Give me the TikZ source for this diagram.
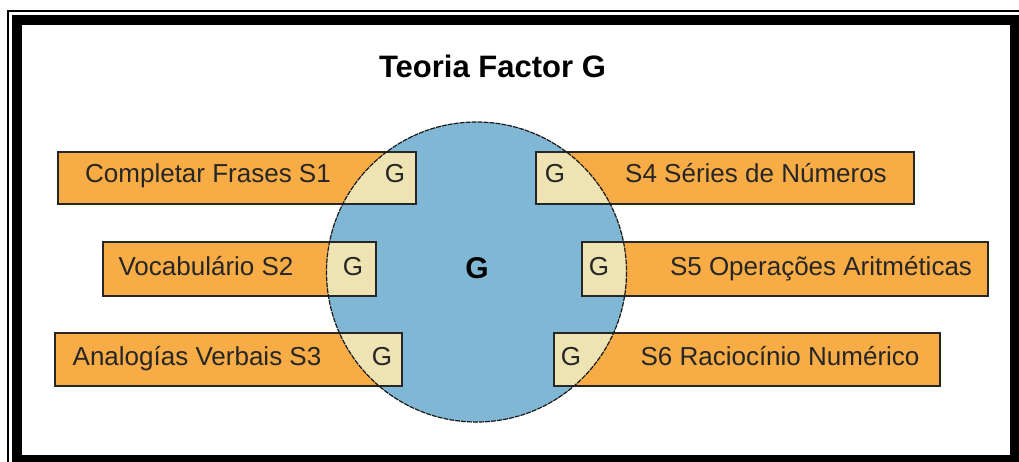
\documentclass[tikz,border=0pt]{standalone}
\usepackage{fontspec}
\setmainfont{Liberation Sans}
\definecolor{boxorange}{RGB}{248,172,70}
\definecolor{gblue}{RGB}{128,183,212}
\definecolor{gbeige}{RGB}{238,227,178}
\tikzset{
	factorbox/.style={draw=black!85,line width=1.2pt,fill=boxorange,inner sep=0pt,outer sep=0pt},
	boxline/.style={draw=black!85,line width=1.2pt},
	boxtext/.style={anchor=base,inner sep=0pt,text=black!85,font=\fontsize{26}{30}\selectfont},
}
\begin{document}
\begin{tikzpicture}[x=1pt,y=-1pt]
	\useasboundingbox (0,0) rectangle (1019,461);
	\clip (0,0) rectangle (1019,461);
	% frame
	\draw[line width=2pt] (8,11) rectangle (1024,470);
	\draw[line width=10pt] (17,20) rectangle (1015,460);
	% title
	\node[anchor=base,inner sep=0pt,font=\bfseries\fontsize{31}{36}\selectfont] (title) at (492.5,77) {Teoria Factor G};
	% circle
	\coordinate (C) at (476.5,272);
	\fill[gblue] (C) circle (150);
	% boxes
	\node[factorbox,minimum width=358,minimum height=52] (s1) at (237,178) {};
	\node[factorbox,minimum width=273,minimum height=54] (s2) at (239.5,269) {};
	\node[factorbox,minimum width=347,minimum height=53] (s3) at (228.5,359.5) {};
	\node[factorbox,minimum width=378,minimum height=52] (s4) at (725,178) {};
	\node[factorbox,minimum width=406,minimum height=54] (s5) at (785,269) {};
	\node[factorbox,minimum width=386,minimum height=53] (s6) at (747,359.5) {};
	\begin{scope}
		\clip (C) circle (150);
		\foreach \b in {s1,s2,s3,s4,s5,s6}
			\fill[gbeige] (\b.south west) rectangle (\b.north east);
	\end{scope}
	\foreach \b in {s1,s2,s3,s4,s5,s6}
		\draw[boxline] (\b.south west) rectangle (\b.north east);
	\draw[black!90,line width=1.2pt,dash pattern=on 5pt off 1pt] (C) circle (150);
	% labels
	\node[boxtext] (t1) at (208,182.5) {Completar Frases S1};
	\node[boxtext] (t2) at (206,275) {Vocabulário S2};
	\node[boxtext] (t3) at (197,365) {Analogías Verbais S3};
	\node[boxtext] (t4) at (756,182.5) {S4 Séries de Números};
	\node[boxtext] (t5) at (821,275) {S5 Operações Aritméticas};
	\node[boxtext] (t6) at (780,365) {S6 Raciocínio Numérico};
	\node[boxtext] (g1) at (395,182.5) {G};
	\node[boxtext] (g2) at (353,275) {G};
	\node[boxtext] (g3) at (382,365) {G};
	\node[boxtext] (g4) at (555,182.5) {G};
	\node[boxtext] (g5) at (599,275) {G};
	\node[boxtext] (g6) at (571,365) {G};
	\node[anchor=base,inner sep=0pt,font=\bfseries\fontsize{30}{34}\selectfont] (gc) at (477,278) {G};
\end{tikzpicture}
\end{document}
